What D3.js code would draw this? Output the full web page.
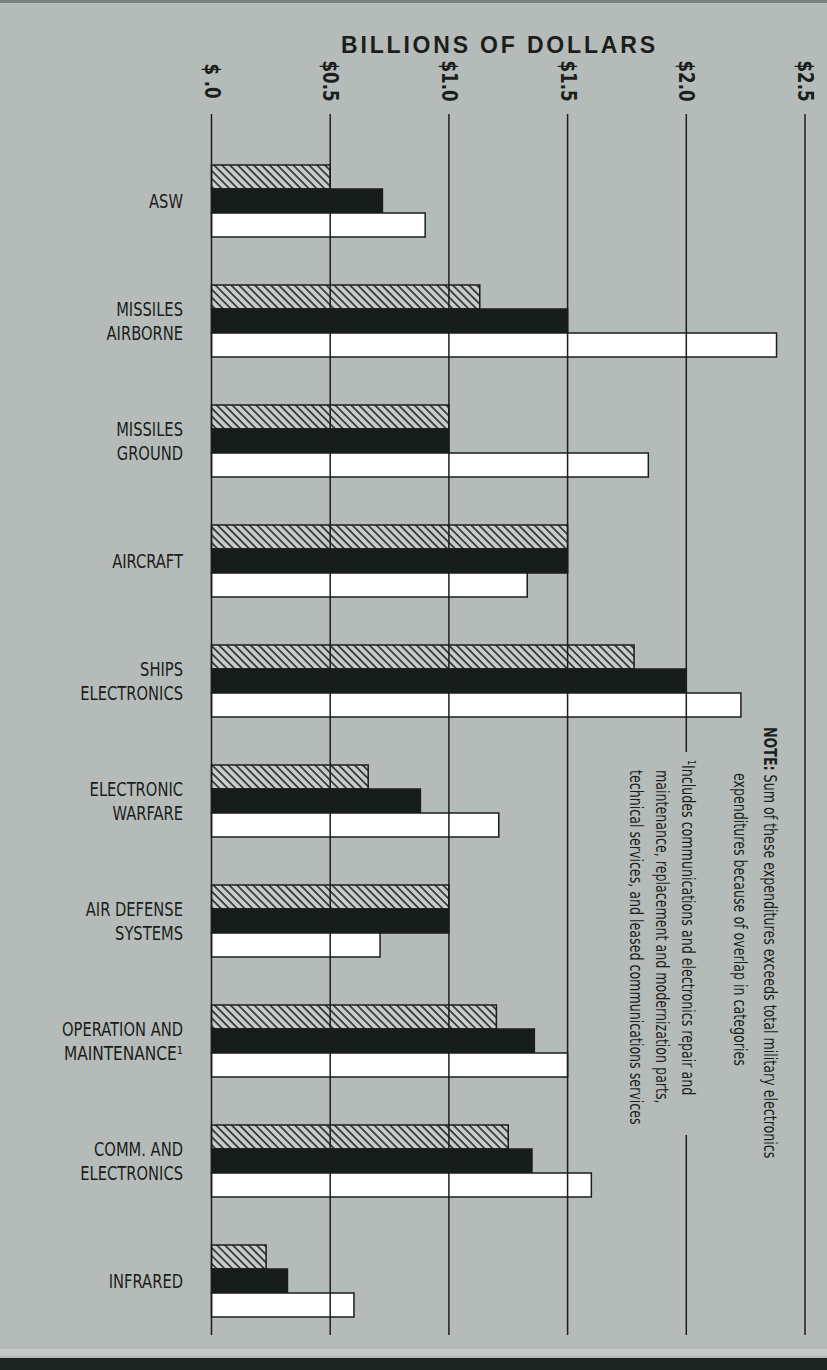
<!DOCTYPE html>
<html><head><meta charset="utf-8">
<script src="https://cdn.jsdelivr.net/npm/d3@7"></script>
<style>body{margin:0;background:#b5bbb8} svg{display:block}</style>
</head><body><svg id="c" width="827" height="1370"></svg>
<script>
// ---- data ----
const categories = ["ASW","MISSILES\nAIRBORNE","MISSILES\nGROUND","AIRCRAFT","SHIPS\nELECTRONICS","ELECTRONIC\nWARFARE","AIR DEFENSE\nSYSTEMS","OPERATION AND\nMAINTENANCE¹","COMM. AND\nELECTRONICS","INFRARED"];
const seriesNames = ["hatched","black","white"];
const hatchedValues = [0.50,1.13,1.00,1.50,1.78,0.66,1.00,1.20,1.25,0.23];
const blackValues   = [0.72,1.50,1.00,1.50,2.00,0.88,1.00,1.36,1.35,0.32];
const whiteValues   = [0.90,2.38,1.84,1.33,2.23,1.21,0.71,1.50,1.60,0.60];
const tickValues = [0,0.5,1.0,1.5,2.0,2.5];
const tickLabels = ["$ .0","$0.5","$1.0","$1.5","$2.0","$2.5"];
const titleText = "BILLIONS OF DOLLARS";
const noteLines = [
  {bold:"NOTE:", text:" Sum of these expenditures exceeds total military electronics"},
  {bold:"", text:"expenditures because of overlap in categories"},
  {bold:"", text:"¹Includes communications and electronics repair and"},
  {bold:"", text:"maintenance, replacement and modernization parts,"},
  {bold:"", text:"technical services, and leased communications services"}
];

const NARROW = "'Liberation Sans Narrow','DejaVu Sans Condensed','Roboto Condensed',sans-serif";
const INK = "#1b1e1c";

function squeeze(sel, k){
  sel.each(function(){
    const L = this.getComputedTextLength();
    d3.select(this).attr("textLength", L*k).attr("lengthAdjust","spacingAndGlyphs");
  });
}

const svg = d3.select("#c");
svg.append("rect").attr("width",827).attr("height",1370).attr("fill","#b5bbb8");
svg.append("rect").attr("y",0).attr("width",827).attr("height",3).attr("fill","#7a807d");
svg.append("rect").attr("y",1349).attr("width",827).attr("height",7).attr("fill","#c5cac7");
svg.append("rect").attr("y",1358).attr("width",827).attr("height",12).attr("fill","#1e2422");

const defs = svg.append("defs");
const pat = defs.append("pattern").attr("id","hatch").attr("patternUnits","userSpaceOnUse")
  .attr("width",5.6).attr("height",5.6).attr("patternTransform","rotate(-45)");
pat.append("rect").attr("width",5.6).attr("height",5.6).attr("fill","#c9cdca");
pat.append("line").attr("x1",1).attr("x2",1).attr("y1",0).attr("y2",5.6).attr("stroke",INK).attr("stroke-width",1.5);

// scales
const x = d3.scaleLinear().domain([0,2.5]).range([211.5,805]);
const y = d3.scaleBand().domain(categories).range([141,1341]).paddingInner(0.4).paddingOuter(0.2);
const ys = d3.scaleBand().domain(seriesNames).range([0,y.bandwidth()]);

const seriesData = {hatched:hatchedValues, black:blackValues, white:whiteValues};
const fills = {hatched:"url(#hatch)", black:"#171d1a", white:"#ffffff"};

// bars
const gBars = svg.append("g");
seriesNames.forEach(s=>{
  gBars.selectAll(null).data(categories.map((c,i)=>({c,v:seriesData[s][i]}))).join("rect")
    .attr("x",x(0)).attr("y",d=>y(d.c)+ys(s))
    .attr("width",d=>x(d.v)-x(0)).attr("height",ys.bandwidth())
    .attr("fill",fills[s]).attr("stroke",INK).attr("stroke-width",1.5);
});

// gridlines
const gridTop = 114, gridBottom = 1335;
const gGrid = svg.append("g");
tickValues.forEach(v=>{
  const segs = v===2.0 ? [[gridTop,752],[1135,gridBottom]] : [[gridTop,gridBottom]];
  segs.forEach(([a,b])=>{
    gGrid.append("line").attr("x1",x(v)).attr("x2",x(v)).attr("y1",a).attr("y2",b)
      .attr("stroke",INK).attr("stroke-width",1.5);
  });
});

// axis with rotated tick labels
const axis = d3.axisTop(x).tickValues(tickValues).tickFormat((d,i)=>tickLabels[i]).tickSize(0);
const gAxis = svg.append("g").attr("transform","translate(0,81)").call(axis);
gAxis.select(".domain").remove();
gAxis.selectAll("text").attr("x",0).attr("y",0).attr("dy","0.35em")
  .attr("text-anchor","middle").attr("transform","rotate(90)")
  .attr("font-family",NARROW).attr("font-weight","bold").attr("font-size",21).attr("fill",INK);
squeeze(gAxis.selectAll("text"), 0.88);

// title
svg.append("text").attr("x",498).attr("y",53).attr("text-anchor","middle")
  .attr("font-family","'Liberation Sans','Arimo',sans-serif").attr("font-weight","bold")
  .attr("font-size",23).attr("fill",INK).attr("textLength",314).attr("lengthAdjust","spacing")
  .text(titleText);

// category labels
categories.forEach(c=>{
  const lines = c.split("\n");
  const yc = y(c)+y.bandwidth()/2;
  lines.forEach((ln,j)=>{
    const off = (j-(lines.length-1)/2)*24;
    const t = svg.append("text").attr("x",183).attr("y",yc+off).attr("dy","0.36em")
      .attr("text-anchor","end").attr("font-family",NARROW).attr("font-size",19).attr("fill",INK)
      .text(ln);
    squeeze(t, ln.endsWith("¹") ? 0.9 : 0.86);
  });
});

// note text (rotated)
const notePos = [[770,727],[740,773],[688,760],[662,770],[636,770]];
noteLines.forEach((n,i)=>{
  const [cx,sy] = notePos[i];
  const t = svg.append("text").attr("transform",`translate(${cx},${sy}) rotate(90)`)
    .attr("dy","0.35em").attr("font-family",NARROW).attr("font-size",18).attr("fill",INK);
  if(n.bold){
    t.append("tspan").attr("font-weight","bold").text(n.bold);
    t.append("tspan").attr("xml:space","preserve").text(n.text);
  } else t.text(n.text);
  squeeze(t, 0.78);
});
</script></body></html>
